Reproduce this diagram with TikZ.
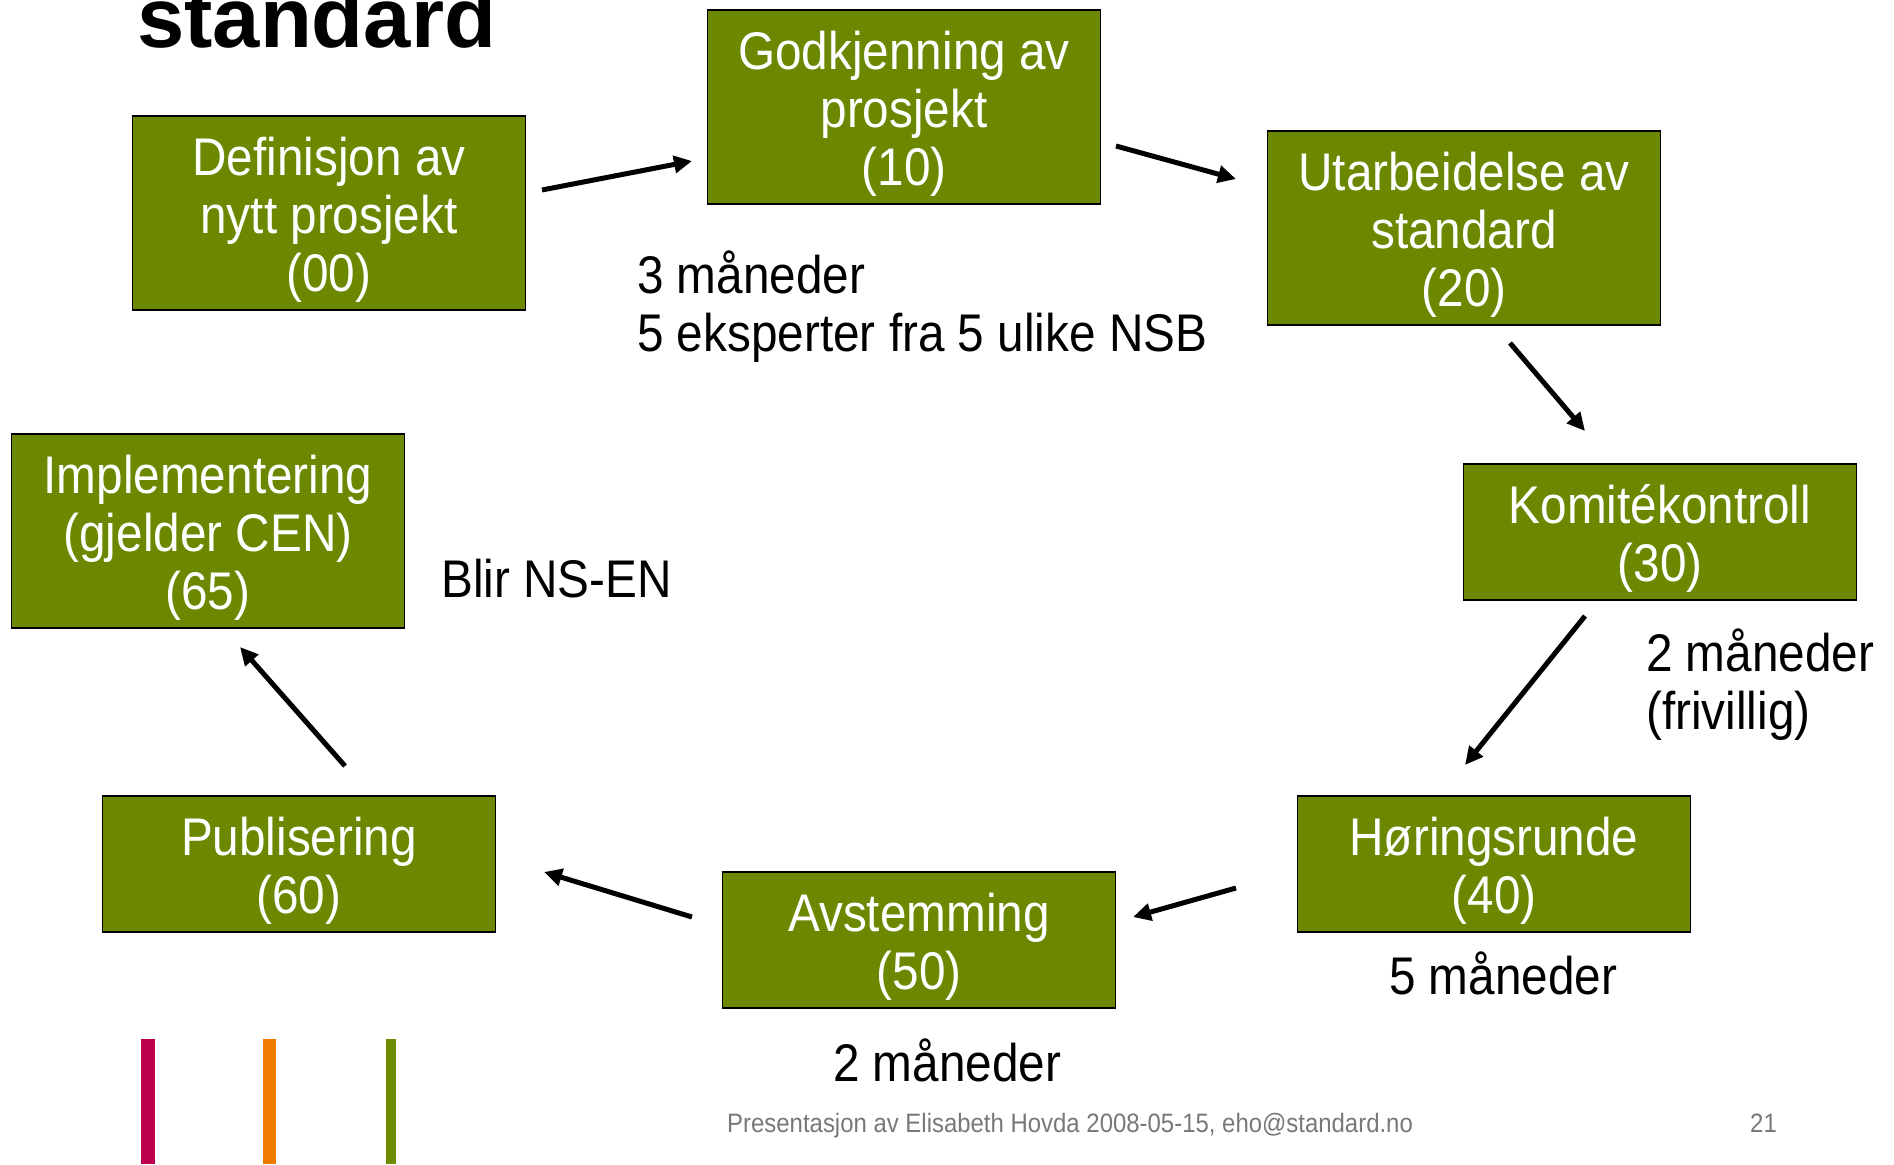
\documentclass[tikz,border=0pt]{standalone}
\usepackage{fontspec}
\setmainfont{Liberation Sans}
\newfontfamily\nf[FakeStretch=0.9]{Liberation Sans}
\usetikzlibrary{arrows.meta}
\definecolor{boxgreen}{RGB}{107,136,0}
\definecolor{barred}{RGB}{190,0,80}
\definecolor{barorange}{RGB}{238,122,0}
\definecolor{bargreen}{RGB}{110,140,0}
\definecolor{footgray}{RGB}{120,120,120}
\newcommand\boxlift{\rule{0pt}{51pt}}
\begin{document}
\begin{tikzpicture}[x=1pt,y=-1pt,
  stage/.style={draw=black,line width=1.5pt,fill=boxgreen,text=white,align=center,
    minimum width=393pt,inner sep=0pt,font=\nf\fontsize{53}{58}\selectfont},
  tall/.style={stage,minimum height=194pt},
  short/.style={stage,minimum height=136pt},
  flow/.style={line width=5pt,-{Triangle[length=18pt,width=17pt]}},
  lbl/.style={anchor=base west,inner sep=0pt,align=left,font=\nf\fontsize{53}{58}\selectfont},
  foottext/.style={anchor=base west,inner sep=0pt,text=footgray,font=\nf\fontsize{26.6}{30}\selectfont}]
\useasboundingbox (0,0) rectangle (1894,1164);
\clip (0,0) rectangle (1894,1164);

% title (cut off at top)
\node[anchor=base west,inner sep=0pt,font=\bfseries\fontsize{85}{90}\selectfont] (title) at (137,48) {standard};

% stages
\node[tall]  (s00) at (329,213) {\boxlift Definisjon av\\nytt prosjekt\\(00)};
\node[tall]  (s10) at (904,107) {\boxlift Godkjenning av\\prosjekt\\(10)};
\node[tall]  (s20) at (1464,228) {\boxlift Utarbeidelse av\\standard\\(20)};
\node[short] (s30) at (1660,532) {\boxlift Komitékontroll\\(30)};
\node[short] (s40) at (1494,864) {\boxlift Høringsrunde\\(40)};
\node[short] (s50) at (919,940) {\boxlift Avstemming\\(50)};
\node[short] (s60) at (299,864) {\boxlift Publisering\\(60)};
\node[tall]  (s65) at (208,531) {\boxlift Implementering\\(gjelder CEN)\\(65)};

% labels (base anchor = last line)
\node[lbl] (l1) at (637,351) {3 måneder\\5 eksperter fra 5 ulike NSB};
\node[lbl] (l2) at (441,597) {Blir NS-EN};
\node[lbl] (l3) at (1646,729) {2 måneder\\(frivillig)};
\node[lbl] (l4) at (1389,994) {5 måneder};
\node[lbl] (l5) at (833,1081) {2 måneder};

% arrow end points
\coordinate (a1s) at (542,190);  \coordinate (a1e) at (692,161);
\coordinate (a2s) at (1116,146); \coordinate (a2e) at (1236,179);
\coordinate (a3s) at (1510,343); \coordinate (a3e) at (1585,431);
\coordinate (a4s) at (1585,616); \coordinate (a4e) at (1465,765);
\coordinate (a5s) at (1236,888); \coordinate (a5e) at (1133,917);
\coordinate (a6s) at (692,917);  \coordinate (a6e) at (544,872);
\coordinate (a7s) at (345,766);  \coordinate (a7e) at (240,647);

\draw[flow] (a1s) -- (a1e);
\draw[flow] (a2s) -- (a2e);
\draw[flow] (a3s) -- (a3e);
\draw[flow] (a4s) -- (a4e);
\draw[flow] (a5s) -- (a5e);
\draw[flow] (a6s) -- (a6e);
\draw[flow] (a7s) -- (a7e);

% decorative bars
\fill[barred]    (141,1039) rectangle (155,1164);
\fill[barorange] (263,1039) rectangle (276,1164);
\fill[bargreen]  (386,1039) rectangle (396,1164);

% footer
\node[foottext] (foot) at (727,1132) {Presentasjon av Elisabeth Hovda 2008-05-15, eho@standard.no};
\node[foottext] (page) at (1750,1132) {21};
\end{tikzpicture}
\end{document}
